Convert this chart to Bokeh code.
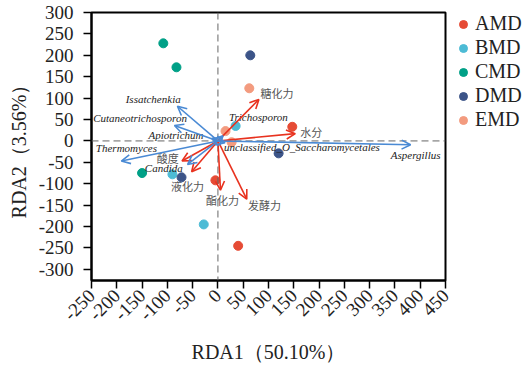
import math
from bokeh.plotting import figure
from bokeh.layouts import row
from bokeh.models import (Range1d, FixedTicker, Span, Arrow, OpenHead, ColumnDataSource,
                          Legend, LegendItem)
from bokeh.core.properties import value
from bokeh.embed import file_html
from bokeh.resources import INLINE

# ---- data ----
groups = ["AMD", "BMD", "CMD", "DMD", "EMD"]
group_colors = ["#E64B35", "#4DBBD5", "#00A087", "#3C5488", "#F39B7F"]
amd_x = [147, -5, 40];    amd_y = [33, -92, -245]
bmd_x = [35, -90, -28];   bmd_y = [35, -78, -195]
cmd_x = [-108, -82, -150]; cmd_y = [228, 172, -75]
dmd_x = [64, -72, 120];   dmd_y = [200, -85, -29]
emd_x = [62, 15, 27];     emd_y = [123, 23, -3]
group_x = [amd_x, bmd_x, cmd_x, dmd_x, emd_x]
group_y = [amd_y, bmd_y, cmd_y, dmd_y, emd_y]

env_names = ["糖化力", "水分", "酸度", "液化力", "酯化力", "发酵力"]
env_x = [81, 153, -71, -52, 5, 57]
env_y = [97, 17, -47, -72, -115, -136]
env_label_x = [84, 163, -99, -60, 9, 92]
env_label_y = [113, 22, -41, -105, -137, -150]
env_label_align = ["left", "left", "center", "center", "center", "center"]

sp_names = ["Issatchenkia", "Cutaneotrichosporon", "Apiotrichum", "Thermomyces",
            "Candida", "Trichosporon", "unclassified_O_Saccharomycetales", "Aspergillus"]
sp_x = [-80, -86, -12, -191, -60, 10, 14, 381]
sp_y = [81, 36, 6, -47, -55, 12, -4, -9]
sp_label_x = [-128, -154, -83, -181, -107, 80, 166, 391]
sp_label_y = [97, 53, 14, -17, -64, 55, -13, -34]

x_ticks = list(range(-250, 451, 50))
y_ticks = list(range(-300, 301, 50))

SERIF = "Liberation Serif"
CJK = "Noto Sans CJK SC"
H = 366

p = figure(width=453, height=H, output_backend="svg", toolbar_location=None,
           x_range=Range1d(-250, 450), y_range=Range1d(-326, 300),
           min_border_left=91, min_border_right=8, min_border_top=10, min_border_bottom=79)
p.grid.visible = False
p.outline_line_color = "black"
p.outline_line_width = 2
p.background_fill_color = "white"

for ax in (p.xaxis[0], p.yaxis[0]):
    ax.axis_line_width = 2
    ax.axis_line_color = "black"
    ax.major_tick_out = 8
    ax.major_tick_in = 0
    ax.major_tick_line_width = 1.5
    ax.minor_tick_line_color = None
    ax.major_label_text_font = SERIF
    ax.major_label_text_font_size = "19px"
    ax.major_label_text_color = "#222222"
    ax.axis_label_text_font = SERIF
    ax.axis_label_text_font_size = "20px"
    ax.axis_label_text_font_style = "normal"
    ax.axis_label_text_color = "#222222"

p.xaxis.ticker = FixedTicker(ticks=x_ticks)
p.yaxis.ticker = FixedTicker(ticks=y_ticks)
p.xaxis.major_label_overrides = {t: str(t) for t in x_ticks}
p.yaxis.major_label_overrides = {t: str(t) for t in y_ticks}
p.xaxis.major_label_orientation = math.pi / 4
p.yaxis.major_label_standoff = 10
p.xaxis.major_label_standoff = 4
p.xaxis.axis_label = "RDA1（50.10%）"
p.yaxis.axis_label = "RDA2（3.56%）"
p.xaxis.axis_label_standoff = 12
p.yaxis.axis_label_standoff = 6

p.add_layout(Span(location=0, dimension="height", line_color="#666666", line_dash="7 4", line_width=1))
p.add_layout(Span(location=0, dimension="width", line_color="#666666", line_dash="7 4", line_width=1))

for g, c, xs, ys in zip(groups, group_colors, group_x, group_y):
    p.scatter(xs, ys, size=9, fill_color=c, line_color=c)

red = "#E8321F"
blue = "#4A8AD4"
env_src = ColumnDataSource(dict(x0=[0]*len(env_x), y0=[0]*len(env_y), x1=env_x, y1=env_y))
p.add_layout(Arrow(source=env_src, x_start="x0", y_start="y0", x_end="x1", y_end="y1",
                   line_color=red, line_width=1.6,
                   end=OpenHead(size=9, line_color=red, line_width=1.6)))
sp_src = ColumnDataSource(dict(x0=[0]*len(sp_x), y0=[0]*len(sp_y), x1=sp_x, y1=sp_y))
p.add_layout(Arrow(source=sp_src, x_start="x0", y_start="y0", x_end="x1", y_end="y1",
                   line_color=blue, line_width=1.6,
                   end=OpenHead(size=9, line_color=blue, line_width=1.6)))

p.text(x=sp_label_x, y=sp_label_y, text=sp_names, text_font=value(SERIF),
       text_font_style="italic", text_font_size="11px", text_color="#222222",
       text_align="center", text_baseline="middle")
p.text(x=env_label_x, y=env_label_y, text=env_names, text_font=value(CJK),
       text_font_size="11px", text_color="#555555",
       text_align=env_label_align, text_baseline="middle")

# ---- legend panel (same group data, off-view, only used for legend glyphs) ----
lg = figure(width=71, height=H, output_backend="svg", toolbar_location=None,
            x_axis_type=None, y_axis_type=None, x_range=Range1d(1000, 1001), y_range=Range1d(1000, 1001),
            min_border_left=0, min_border_right=0, min_border_top=12, min_border_bottom=0)
lg.grid.visible = False
lg.outline_line_color = None
items = []
for g, c, xs, ys in zip(groups, group_colors, group_x, group_y):
    r = lg.scatter(xs, ys, size=9, fill_color=c, line_color=c)
    items.append(LegendItem(label=g, renderers=[r]))
legend = Legend(items=items, location="top_left", margin=0, padding=0,
                border_line_color=None, background_fill_alpha=0,
                glyph_width=20, glyph_height=20, label_height=20, spacing=1,
                label_standoff=2, label_text_font=SERIF, label_text_font_size="20px",
                label_text_color="#222222")
lg.add_layout(legend)

layout = row(p, lg, spacing=0)
open("out.html", "w").write(file_html(layout, INLINE))
